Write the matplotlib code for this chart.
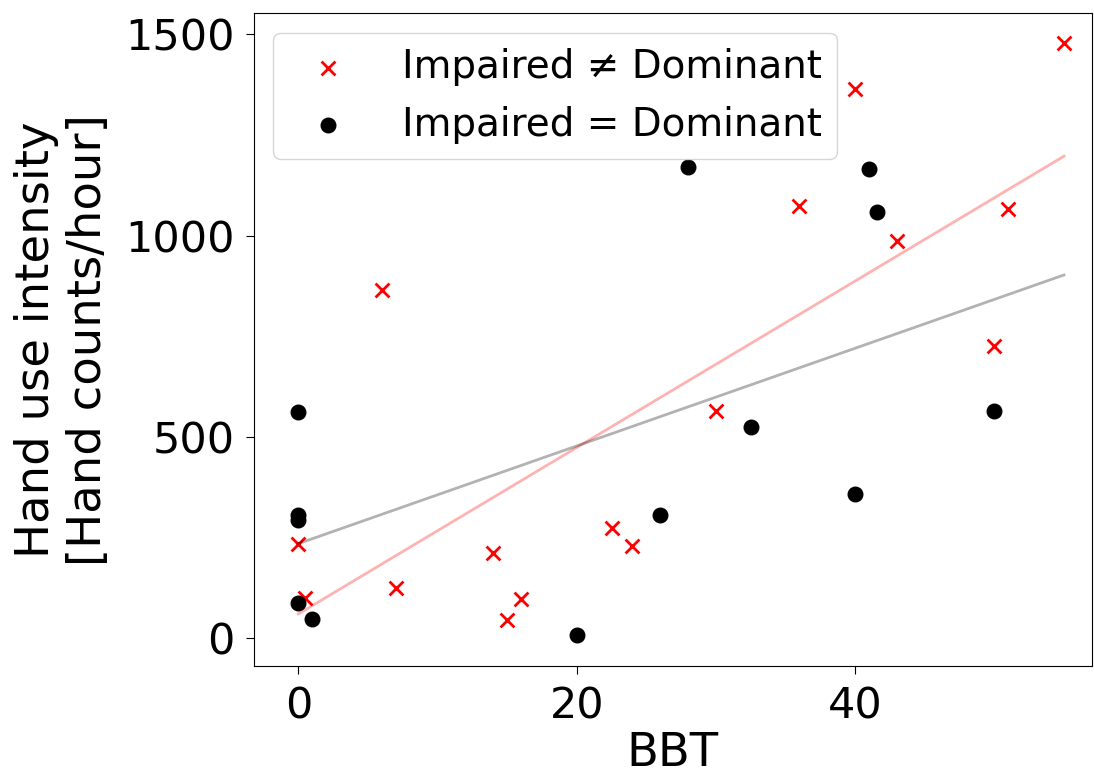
import numpy as np
import matplotlib
matplotlib.use('Agg')
import matplotlib.pyplot as plt

# Impaired != Dominant (red crosses)
bbt_diff = [0, 0.5, 6, 7, 14, 15, 16, 22.5, 24, 30, 36, 40, 43, 50, 51, 55]
use_diff = [235, 100, 864, 125, 213, 45, 98, 274, 228, 564, 1074, 1365, 988, 725, 1066, 1480]

# Impaired = Dominant (black dots)
bbt_same = [0, 0, 0, 0, 1, 20, 26, 28, 32.5, 40, 41, 41.6, 50]
use_same = [561, 307, 293, 88, 49, 9, 305, 1170, 526, 358, 1165, 1059, 565]

x_fit = np.array([0, 55])

fig = plt.figure(figsize=(10.94, 7.74), dpi=100)
ax = fig.add_axes([0.232, 0.139, 0.766, 0.844])

ax.scatter(bbt_diff, use_diff, marker='x', color='red', s=100, linewidths=2,
           label='Impaired \u2260 Dominant')
ax.scatter(bbt_same, use_same, marker='o', color='black', s=110,
           label='Impaired = Dominant')

# linear fits per group
p_diff = np.polyfit(bbt_diff, use_diff, 1)
p_same = np.polyfit(bbt_same, use_same, 1)
ax.plot(x_fit, np.polyval(p_diff, x_fit), color='red', alpha=0.3, lw=2)
ax.plot(x_fit, np.polyval(p_same, x_fit), color='black', alpha=0.3, lw=2)

ax.set_xlim(-3.2, 57)
ax.set_ylim(-70, 1553)
ax.set_xticks([0, 20, 40])
ax.set_yticks([0, 500, 1000, 1500])
ax.tick_params(labelsize=31, length=6, pad=8)
ax.set_xlabel('BBT', fontsize=33.5, labelpad=2)
ax.set_ylabel('Hand use intensity\n[Hand counts/hour]', fontsize=33.5, labelpad=10)
ax.legend(loc='upper left', fontsize=28, handletextpad=0.9)

fig.savefig('out.png', dpi=100)
